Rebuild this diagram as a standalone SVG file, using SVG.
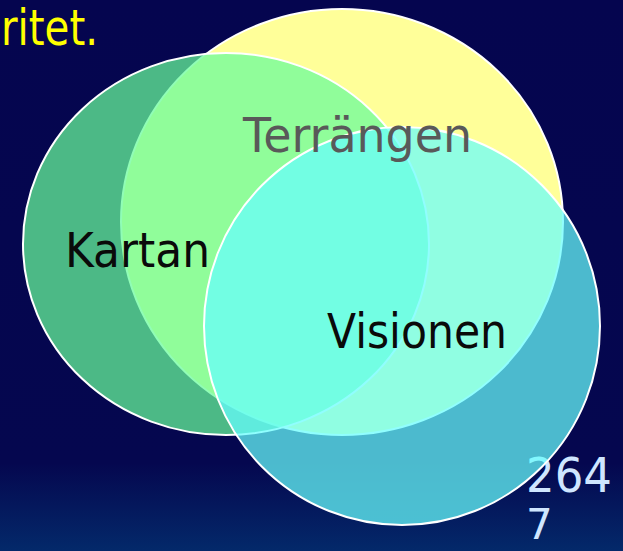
<svg xmlns="http://www.w3.org/2000/svg" width="623" height="551" viewBox="0 0 623 551">
  <defs>
    <linearGradient id="bg" x1="0" y1="0" x2="0" y2="1">
      <stop offset="0" stop-color="#05054F"/>
      <stop offset="0.84" stop-color="#05074F"/>
      <stop offset="1" stop-color="#03296A"/>
    </linearGradient>
    <style>
      .lbl { font-family: "Comic Sans MS", "DejaVu Sans", sans-serif; }
      .ring { stroke: #FFFFFF; stroke-width: 2; }
    </style>
  </defs>
  <rect x="0" y="0" width="623" height="551" fill="url(#bg)"/>
  <text class="lbl" x="1" y="45" font-size="50" fill="#FFFF00" textLength="97" lengthAdjust="spacingAndGlyphs">ritet.</text>
  <g id="page-number">
    <text class="lbl" x="526" y="492" font-size="48" fill="#CFE6FF" textLength="86" lengthAdjust="spacingAndGlyphs">264</text>
    <text class="lbl" x="526" y="539" font-size="42" fill="#CFE6FF">7</text>
  </g>
  <g id="terrangen">
    <ellipse class="ring" cx="342" cy="222" rx="221" ry="213" fill="#FFFF99"/>
  </g>
  <g id="kartan">
    <ellipse class="ring" cx="226" cy="244" rx="203" ry="191" fill="#67FC9B" fill-opacity="0.73"/>
  </g>
  <g id="visionen">
    <ellipse class="ring" cx="402" cy="326" rx="198" ry="199" fill="#67FEFE" fill-opacity="0.73"/>
  </g>
  <g id="labels">
    <text class="lbl" x="243" y="152" font-size="48" fill="#595959" textLength="229" lengthAdjust="spacingAndGlyphs">Terrängen</text>
    <text class="lbl" x="65" y="267" font-size="48" fill="#0A0A0A" textLength="145" lengthAdjust="spacingAndGlyphs">Kartan</text>
    <text class="lbl" x="327" y="348" font-size="48" fill="#0A0A0A" textLength="180" lengthAdjust="spacingAndGlyphs">Visionen</text>
  </g>
  <g id="connectors"/>
</svg>
